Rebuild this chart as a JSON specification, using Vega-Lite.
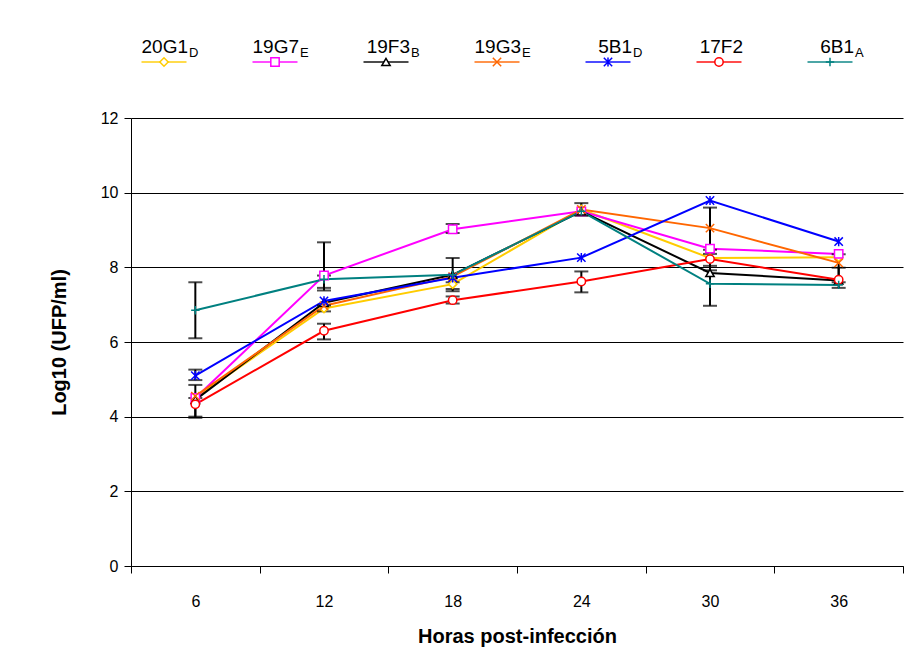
{
  "$schema": "https://vega.github.io/schema/vega-lite/v6.json",
  "padding": {"left": 49, "top": 32, "right": 5, "bottom": 5},
  "background": "white",
  "bounds": "flush",
  "spacing": 26,
  "config": {
    "view": {"stroke": null},
    "font": "Liberation Sans",
    "axis": {"domainColor": "black", "tickColor": "black", "labelColor": "black", "titleColor": "black", "labelFont": "Liberation Sans", "titleFont": "Liberation Sans"}
  },
  "datasets": {
    "series": [
      {"h": 6, "cepa": "20G1", "v": 4.5}, {"h": 12, "cepa": "20G1", "v": 6.9}, {"h": 18, "cepa": "20G1", "v": 7.55}, {"h": 24, "cepa": "20G1", "v": 9.55}, {"h": 30, "cepa": "20G1", "v": 8.25}, {"h": 36, "cepa": "20G1", "v": 8.27},
      {"h": 6, "cepa": "19G7", "v": 4.5}, {"h": 12, "cepa": "19G7", "v": 7.78}, {"h": 18, "cepa": "19G7", "v": 9.02}, {"h": 24, "cepa": "19G7", "v": 9.5}, {"h": 30, "cepa": "19G7", "v": 8.5}, {"h": 36, "cepa": "19G7", "v": 8.36},
      {"h": 6, "cepa": "19F3", "v": 4.45}, {"h": 12, "cepa": "19F3", "v": 7.05}, {"h": 18, "cepa": "19F3", "v": 7.8}, {"h": 24, "cepa": "19F3", "v": 9.5}, {"h": 30, "cepa": "19F3", "v": 7.85}, {"h": 36, "cepa": "19F3", "v": 7.65},
      {"h": 6, "cepa": "19G3", "v": 4.55}, {"h": 12, "cepa": "19G3", "v": 6.97}, {"h": 18, "cepa": "19G3", "v": 7.75}, {"h": 24, "cepa": "19G3", "v": 9.55}, {"h": 30, "cepa": "19G3", "v": 9.05}, {"h": 36, "cepa": "19G3", "v": 8.12},
      {"h": 6, "cepa": "5B1", "v": 5.1}, {"h": 12, "cepa": "5B1", "v": 7.1}, {"h": 18, "cepa": "5B1", "v": 7.72}, {"h": 24, "cepa": "5B1", "v": 8.26}, {"h": 30, "cepa": "5B1", "v": 9.79}, {"h": 36, "cepa": "5B1", "v": 8.69},
      {"h": 6, "cepa": "17F2", "v": 4.33}, {"h": 12, "cepa": "17F2", "v": 6.3}, {"h": 18, "cepa": "17F2", "v": 7.12}, {"h": 24, "cepa": "17F2", "v": 7.62}, {"h": 30, "cepa": "17F2", "v": 8.22}, {"h": 36, "cepa": "17F2", "v": 7.67},
      {"h": 6, "cepa": "6B1", "v": 6.85}, {"h": 12, "cepa": "6B1", "v": 7.68}, {"h": 18, "cepa": "6B1", "v": 7.8}, {"h": 24, "cepa": "6B1", "v": 9.5}, {"h": 30, "cepa": "6B1", "v": 7.56}, {"h": 36, "cepa": "6B1", "v": 7.53}
    ],
    "errs": [
      {"h": 6, "lo": 6.1, "hi": 7.6}, {"h": 6, "lo": 4.98, "hi": 5.26}, {"h": 6, "lo": 4.0, "hi": 4.85}, {"h": 6, "lo": 3.97, "hi": 4.5},
      {"h": 12, "lo": 7.38, "hi": 8.67}, {"h": 12, "lo": 7.45, "hi": 7.78}, {"h": 12, "lo": 6.07, "hi": 6.49}, {"h": 12, "lo": 6.82, "hi": 6.98},
      {"h": 18, "lo": 8.92, "hi": 9.16}, {"h": 18, "lo": 7.36, "hi": 8.25}, {"h": 18, "lo": 7.42, "hi": 7.6}, {"h": 18, "lo": 7.03, "hi": 7.22},
      {"h": 24, "lo": 9.38, "hi": 9.72}, {"h": 24, "lo": 7.33, "hi": 7.89},
      {"h": 30, "lo": 6.97, "hi": 9.6}, {"h": 30, "lo": 8.36, "hi": 8.47}, {"h": 30, "lo": 7.92, "hi": 8.04},
      {"h": 36, "lo": 7.45, "hi": 8.35}, {"h": 36, "lo": 7.6, "hi": 7.99}
    ],
    "legend": [
      {"cepa": "20G1", "sub": "D", "row": "a"}, {"cepa": "19G7", "sub": "E", "row": "a"}, {"cepa": "19F3", "sub": "B", "row": "a"}, {"cepa": "19G3", "sub": "E", "row": "a"}, {"cepa": "5B1", "sub": "D", "row": "a"}, {"cepa": "17F2", "sub": "", "row": "a"}, {"cepa": "6B1", "sub": "A", "row": "a"}
    ]
  },
  "vconcat": [
    {
      "width": 772,
      "height": 60,
      "data": {"name": "legend"},
      "encoding": {
        "x": {"field": "cepa", "type": "nominal", "sort": ["20G1", "19G7", "19F3", "19G3", "5B1", "17F2", "6B1"], "scale": {"type": "point", "padding": 0.4775}, "axis": null},
        "y": {"field": "row", "type": "nominal", "axis": null}
      },
      "layer": [
        {
          "mark": {"type": "tick", "orient": "horizontal", "size": 45, "thickness": 2, "xOffset": -20},
          "encoding": {"color": {"field": "cepa", "type": "nominal", "legend": null}}
        },
        {
          "mark": {"type": "point", "filled": false, "fill": "white", "strokeWidth": 1.5, "size": 70, "xOffset": -20, "opacity": 1},
          "encoding": {"color": {"field": "cepa", "type": "nominal", "legend": null}, "shape": {"field": "cepa", "type": "nominal", "legend": null}}
        },
        {
          "mark": {"type": "text", "align": "right", "baseline": "alphabetic", "dx": 4, "dy": -9, "fontSize": 19, "color": "black"},
          "encoding": {"text": {"field": "cepa"}}
        },
        {
          "mark": {"type": "text", "align": "left", "baseline": "alphabetic", "dx": 5, "dy": -5, "fontSize": 13, "color": "black"},
          "encoding": {"text": {"field": "sub"}}
        }
      ]
    },
    {
      "width": 772,
      "height": 448,
      "encoding": {
        "x": {"field": "h", "type": "ordinal", "scale": {"type": "band", "paddingInner": 0, "paddingOuter": 0},
          "axis": {"title": "Horas post-infección", "labelAngle": 0, "tickBand": "extent", "tickSize": 7, "labelPadding": 20, "labelFontSize": 16, "titleFontSize": 20, "titleFontWeight": "bold", "titlePadding": 17, "grid": false}}
      },
      "layer": [
        {
          "data": {"name": "series"},
          "mark": {"type": "line", "strokeWidth": 2},
          "encoding": {
            "y": {"field": "v", "type": "quantitative", "scale": {"domain": [0, 12]},
              "axis": {"title": "Log10 (UFP/ml)", "values": [0, 2, 4, 6, 8, 10, 12], "grid": true, "gridColor": "black", "gridOpacity": 1, "tickSize": 7, "labelPadding": 6, "labelFontSize": 16, "titleFontSize": 20, "titleFontWeight": "bold", "titlePadding": 31}},
            "color": {"field": "cepa", "type": "nominal", "legend": null,
              "scale": {"domain": ["20G1", "19G7", "19F3", "19G3", "5B1", "17F2", "6B1"], "range": ["#FFCC00", "#FF00FF", "#000000", "#FF6600", "#0000FF", "#FF0000", "#008080"]}}
          }
        },
        {
          "data": {"name": "errs"},
          "mark": {"type": "rule", "color": "black", "strokeWidth": 2},
          "encoding": {"y": {"field": "lo", "type": "quantitative"}, "y2": {"field": "hi"}}
        },
        {
          "data": {"name": "errs"},
          "mark": {"type": "tick", "orient": "horizontal", "color": "black", "size": 14, "thickness": 2},
          "encoding": {"y": {"field": "lo", "type": "quantitative"}}
        },
        {
          "data": {"name": "errs"},
          "mark": {"type": "tick", "orient": "horizontal", "color": "black", "size": 14, "thickness": 2},
          "encoding": {"y": {"field": "hi", "type": "quantitative"}}
        },
        {
          "data": {"name": "series"},
          "mark": {"type": "point", "filled": false, "fill": "white", "strokeWidth": 1.5, "size": 70, "opacity": 1},
          "encoding": {
            "y": {"field": "v", "type": "quantitative"},
            "color": {"field": "cepa", "type": "nominal", "legend": null},
            "shape": {"field": "cepa", "type": "nominal", "legend": null,
              "scale": {"domain": ["20G1", "19G7", "19F3", "19G3", "5B1", "17F2", "6B1"], "range": ["diamond", "square", "triangle-up", "M-1,-1L1,1M-1,1L1,-1", "M-1,-1L1,1M-1,1L1,-1M0,-1.1L0,1.1", "circle", "M-1,0L1,0M0,-1L0,1"]}}
          }
        }
      ]
    }
  ]
}
